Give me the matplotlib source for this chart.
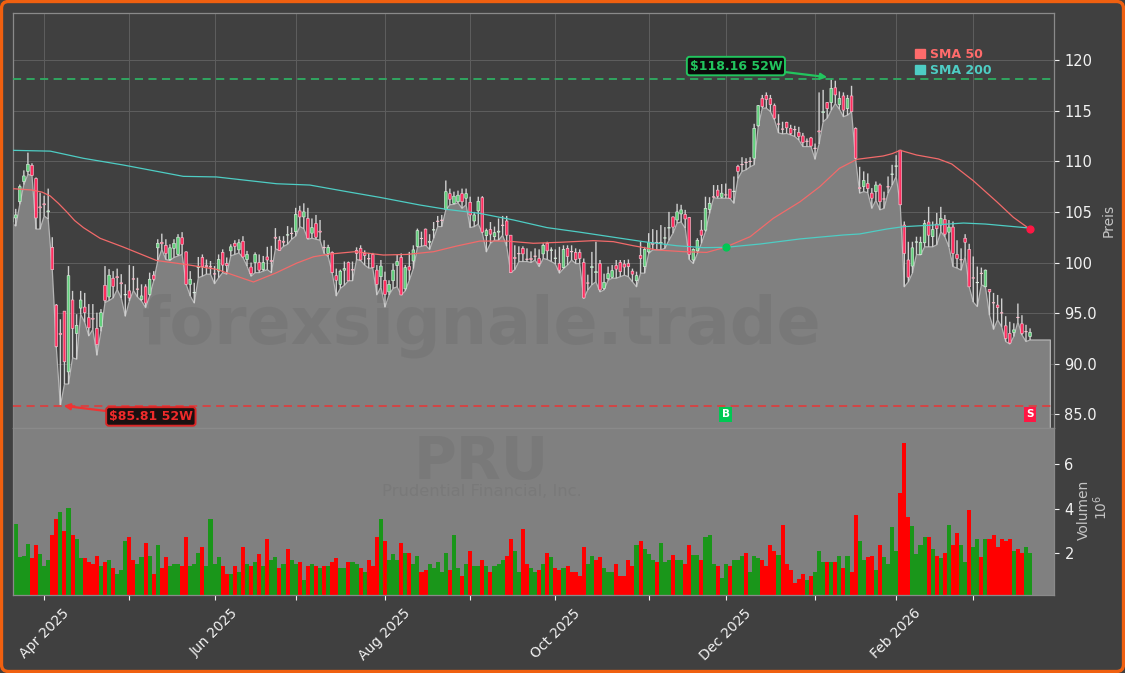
import matplotlib
matplotlib.use("Agg")
import matplotlib.pyplot as plt
import numpy as np
from matplotlib.patches import FancyBboxPatch, Patch
from matplotlib.ticker import FuncFormatter
from matplotlib.transforms import IdentityTransform

opens = [
104.0,104.4,106.0,108.0,109.0,109.6,108.3,105.5,105.8,105.0,
101.5,95.8,93.0,95.2,89.2,96.3,93.0,95.5,95.6,94.55,
94.5,93.5,93.65,97.75,96.6,98.45,98.6,98.0,96.8,97.2,
98.4,97.4,96.35,97.6,96.85,98.75,101.45,102.0,101.7,100.3,
101.4,100.8,102.45,101.05,97.85,97.0,99.5,100.5,99.7,99.6,
98.9,99.15,101.0,99.9,101.15,101.9,101.25,102.1,100.3,99.55,
100.0,100.0,99.3,100.55,100.2,102.5,102.2,102.1,102.7,102.9,
103.05,105.1,104.5,104.35,102.9,103.85,103.1,101.5,100.9,101.0,
98.7,97.85,99.25,100.0,99.3,101.2,101.4,100.9,100.4,100.8,
99.25,98.6,98.25,97.1,98.2,99.7,100.5,97.4,99.6,100.15,
101.6,102.4,103.3,102.0,103.2,104.1,104.2,105.25,106.8,105.85,
106.0,106.8,106.35,105.95,104.1,105.1,106.4,102.65,103.25,102.55,
103.0,103.7,104.1,102.7,100.5,100.9,101.4,100.35,100.4,100.65,
100.4,100.85,101.9,101.2,100.4,99.9,99.5,101.4,101.1,101.0,
101.0,100.0,98.0,99.5,99.0,99.9,97.45,98.4,98.55,99.7,
100.0,99.85,99.9,99.15,98.2,100.7,99.6,101.05,101.9,102.0,
101.9,102.4,103.4,104.5,104.2,104.8,104.75,104.45,100.25,101.15,
103.2,103.2,105.25,106.5,107.15,106.45,106.7,107.25,107.0,109.5,
109.7,109.9,110.0,110.3,113.5,116.2,116.5,116.2,115.5,113.7,
113.2,113.85,113.25,113.15,112.85,112.5,112.0,112.3,111.3,113.0,
114.8,115.8,115.8,117.25,115.6,116.45,115.2,116.45,113.25,107.4,
107.5,107.8,106.85,107.0,107.65,106.3,107.5,108.7,109.5,111.1,
103.7,100.25,99.65,102.0,100.8,101.95,104.0,102.55,103.8,103.7,
104.25,103.0,103.5,100.8,100.3,102.4,101.3,98.5,98.0,98.95,
97.6,97.35,96.05,95.8,95.05,93.75,93.0,93.1,94.6,93.95,
93.2,92.7]

closes = [
104.5,104.7,107.5,108.55,109.7,108.6,104.4,105.4,105.7,105.1,
99.3,91.7,92.9,90.2,98.7,93.5,93.8,96.3,95.05,93.55,
94.4,91.9,95.05,96.25,98.75,97.65,98.5,97.9,96.8,96.5,
98.35,97.35,96.7,96.0,98.35,98.35,101.9,101.85,100.9,101.45,
101.9,102.5,101.8,97.85,98.35,97.0,99.6,99.6,99.6,99.55,
98.85,100.3,99.75,99.7,101.55,101.6,101.95,100.55,100.8,98.9,
100.8,99.25,100.0,100.25,100.1,102.4,101.2,102.0,102.75,102.85,
104.75,104.5,105.0,102.4,103.45,102.5,103.0,101.45,101.5,99.0,
98.25,99.15,99.4,98.2,99.25,100.9,100.25,100.7,100.35,99.5,
97.85,99.65,96.85,97.85,99.25,100.1,96.8,99.5,99.25,101.25,
103.15,102.35,101.7,102.1,103.25,104.05,104.15,107.0,106.25,106.55,
106.65,106.0,106.8,104.7,104.7,106.05,103.0,103.15,102.8,102.95,
103.1,103.65,102.7,99.0,100.4,100.85,100.85,100.3,100.3,100.6,
99.9,101.7,101.15,101.25,100.4,99.25,101.3,100.6,101.05,100.3,
100.4,96.5,97.95,99.6,99.1,97.3,98.05,98.9,99.2,99.35,
99.1,99.55,99.6,98.85,98.7,100.4,101.3,101.95,101.8,101.95,
102.0,102.45,103.45,103.5,105.0,105.2,104.3,100.8,101.3,102.2,
102.7,105.35,105.85,106.45,106.55,106.85,106.65,106.35,107.05,109.0,
109.65,109.85,109.95,113.25,115.5,115.4,116.1,115.6,114.25,113.65,
113.15,113.3,112.75,113.1,112.45,111.85,111.95,111.5,111.25,112.9,
114.9,115.2,117.2,116.55,116.2,115.05,116.2,114.9,110.3,107.3,
108.1,107.3,106.35,107.65,106.0,106.25,107.45,108.75,109.55,105.7,
100.9,98.55,101.45,102.05,102.0,103.85,102.7,103.25,103.35,104.35,
102.8,103.5,100.9,100.4,100.25,102.0,97.6,98.45,98.0,98.9,
99.25,97.1,96.0,95.55,95.0,92.5,92.05,93.35,94.55,93.0,
93.15,93.1]

highs = [
105.25,105.3,107.7,109.1,110.85,109.8,108.4,106.9,106.6,107.3,
102.5,95.9,94.4,95.2,99.65,97.2,94.9,97.2,97.0,95.9,
95.9,95.05,95.4,99.65,99.35,99.15,99.4,98.85,97.85,99.75,
99.65,98.5,97.85,97.85,99.0,99.15,102.3,102.85,102.3,101.8,
102.3,102.8,103.0,101.1,99.15,98.0,100.55,100.8,100.3,100.15,
99.65,100.8,101.3,100.5,101.8,102.2,102.3,102.6,101.15,100.0,
101.0,100.8,100.65,101.55,101.65,103.4,102.6,102.6,103.6,103.45,
105.4,105.6,105.85,105.4,104.35,104.7,104.2,102.2,101.75,101.1,
99.4,99.3,100.1,100.1,100.1,101.5,101.7,101.2,100.95,100.95,
99.75,100.25,99.1,98.25,99.9,100.75,100.9,99.75,101.05,101.7,
103.35,103.05,103.35,102.8,104.0,104.6,104.7,108.1,107.3,107.0,
107.1,107.3,107.3,106.5,105.0,106.5,106.55,103.35,104.0,103.55,
104.35,104.6,104.6,102.7,101.7,101.6,101.6,101.4,101.1,101.4,
101.3,101.9,102.05,101.5,101.3,101.55,101.7,101.7,101.7,101.4,
101.3,100.4,98.8,101.05,102.05,100.25,98.9,99.6,99.75,100.25,
100.25,100.25,100.3,99.4,99.1,102.05,101.55,102.9,103.3,103.2,
103.7,103.5,105.0,104.55,105.8,105.7,105.2,104.5,101.4,102.4,
104.2,106.5,106.45,107.65,107.65,107.75,107.8,107.25,108.5,109.65,
110.4,110.3,110.4,113.7,115.55,116.55,116.8,116.55,115.7,114.65,
113.9,113.9,113.6,113.5,113.4,112.8,112.25,112.4,111.75,116.8,
117.05,115.85,118.16,117.95,116.9,116.8,116.55,117.45,113.35,109.45,
109.0,108.8,107.35,108.0,107.8,107.0,108.5,109.65,110.6,111.1,
104.05,102.05,102.05,102.55,102.55,104.2,105.5,104.05,104.9,105.5,
104.7,104.2,104.05,102.2,101.4,102.8,101.85,100.6,99.6,99.5,
99.3,97.35,97.0,96.8,96.45,94.7,94.15,94.0,95.95,94.8,
93.85,93.5]

lows = [
103.9,103.6,105.75,107.7,108.7,108.6,103.3,103.3,104.6,104.3,
99.3,91.6,85.81,88.0,88.0,90.6,90.45,94.9,94.1,92.75,
93.4,90.85,93.2,96.05,96.25,96.5,97.35,96.5,94.7,96.2,
97.25,96.6,96.2,95.55,96.7,98.2,100.15,101.3,100.3,100.2,
100.5,100.65,100.8,97.85,96.7,96.0,98.5,98.65,98.85,98.85,
97.9,98.5,99.0,98.85,100.65,100.8,100.95,100.5,99.65,98.65,
99.0,99.0,99.15,99.3,99.0,101.35,101.2,101.6,101.8,102.3,
102.6,103.55,103.35,102.3,102.4,102.3,102.2,100.9,100.6,98.95,
96.7,97.45,97.75,98.2,98.2,100.3,100.2,99.75,99.45,99.45,
96.8,97.6,95.6,96.8,97.45,97.6,96.8,97.2,98.25,99.4,
101.5,101.6,101.7,101.3,102.4,103.55,103.55,105.2,105.7,105.75,
105.9,105.35,105.7,103.45,103.55,103.8,102.9,101.05,101.9,102.2,
102.2,102.7,101.6,99.0,99.3,100.1,100.1,100.1,100.0,100.25,
99.6,100.4,100.3,100.1,99.85,98.95,99.4,99.75,100.25,99.9,
99.9,96.45,97.3,97.8,98.1,97.1,97.3,98.25,98.45,98.45,
98.6,98.75,98.6,98.1,97.6,98.95,98.95,100.9,101.25,101.25,
101.25,101.4,102.2,102.9,103.9,104.0,103.4,100.3,99.9,100.9,
101.9,103.05,104.85,106.4,106.35,106.35,106.35,106.35,105.85,108.3,
109.0,109.15,109.45,109.65,113.4,115.25,115.25,114.9,114.1,112.8,
112.7,112.75,112.6,112.45,112.1,111.45,111.45,111.45,110.2,111.7,
113.9,114.25,115.05,115.7,115.15,114.4,114.55,114.9,110.2,106.85,
107.0,106.9,105.35,106.15,105.2,105.35,106.85,107.65,108.5,105.7,
97.6,98.1,98.95,100.8,100.75,101.55,101.55,101.55,101.75,103.05,
102.55,101.55,99.6,99.45,99.25,100.6,97.6,96.1,95.65,97.8,
97.6,94.8,93.4,94.35,93.65,92.2,91.95,92.7,94.15,92.85,
92.2,92.35]
lows_tail = [92.35, 92.35, 92.35, 92.35, 92.35]

volumes = [
1.24,3.33,1.82,1.87,2.43,1.78,2.36,1.96,1.42,1.73,
2.85,3.57,3.87,3.03,4.04,2.81,2.67,1.78,1.78,1.64,
1.55,1.87,1.46,1.64,1.73,1.33,1.06,1.24,2.54,2.76,
1.69,1.51,1.82,2.49,1.87,1.06,2.40,1.33,1.82,1.42,
1.51,1.55,1.42,2.76,1.46,1.55,2.04,2.31,1.42,3.57,
1.51,1.82,1.46,1.06,1.06,1.46,1.19,2.31,1.51,1.42,
1.60,1.96,1.46,2.67,1.73,1.82,1.37,1.55,2.22,1.73,
1.51,1.60,0.79,1.46,1.51,1.42,1.33,1.46,1.46,1.64,
1.78,1.37,1.37,1.60,1.60,1.55,1.33,1.19,1.69,1.46,
2.72,3.57,2.54,1.73,1.96,1.73,2.45,2.04,2.04,1.51,
1.87,1.19,1.24,1.51,1.33,1.60,1.19,2.0,1.28,2.81,
1.33,1.01,1.51,2.09,1.46,1.46,1.69,1.46,1.15,1.42,
1.51,1.69,1.87,2.67,2.09,1.19,3.12,1.51,1.37,1.19,
1.28,1.55,2.0,1.82,1.33,1.28,1.37,1.42,1.15,1.19,
1.01,2.27,1.51,1.87,1.69,1.82,1.33,1.19,1.19,1.55,
1.01,0.97,1.69,1.46,2.36,2.54,2.18,1.96,1.73,1.64,
2.49,1.60,1.73,1.91,1.73,1.69,1.51,2.40,1.91,1.91,
1.69,2.76,2.81,1.55,1.46,0.88,1.55,1.42,1.73,1.69,
1.87,2.0,1.19,1.87,1.78,1.73,1.46,2.40,2.13,1.91,
3.30,1.51,1.28,0.66,0.84,1.10,0.79,1.01,1.19,2.13,
1.60,1.64,1.64,1.60,1.87,1.33,1.87,1.15,3.75,2.54,
1.69,1.82,1.87,1.28,2.36,1.82,1.55,3.21,2.09,4.73,
6.97,3.66,3.25,1.96,2.40,2.76,2.76,2.22,1.87,1.78,
2.04,3.30,2.36,2.90,2.36,1.60,3.96,2.27,2.63,1.82,
2.63,2.67,2.85,2.31,2.63,2.58,2.67,2.13,2.18,2.0,
2.27,2.04]

volume_dirs = (
"GGGGGRRGGG" "RRGRGRGGRR" "RRGRGRGGGR" "RGGRGRGRRG" "GGRRGGGRGG"
"GGRRGRGRGR" "GRGRGGRGRG" "GRGRGRGRGR" "RGGRGGRGRR" "RGRGGGRGRG"
"GRRGGGGGRG" "GRGRGGRGRG" "GGRRGGRRGG" "RGRGRRGRRR" "RRGGRRGGGR"
"RRRRGRGGGR" "GGGRGGRRGG" "RGGGRGGRGG" "GRGGGRRRRG" "RRRRRRGRGG"
"GRGRGRGRRG" "GRRGRGGGGR" "RRGGGGRGRG" "RGRRGGRGGR" "GRRRRRRGRR"
"GG")

sma50_idx = [0,5,7.5,9.5,11.5,13.6,15.5,17.7,21.8,27.5,35.7,43,50.5,59.6,65,70.3,74.4,78.5,84.6,91.6,97.4,104,
             109.7,115.4,122,128.6,135.2,143.4,148.3,153.2,159,165.6,171.3,175.8,182,187.7,
             194.3,199.2,204,208.3,214.8,217,219,223,228.4,231.7,237,242.8,246.9,251]
sma50 = [107.3,107.16,106.95,106.57,105.85,104.99,104.15,103.44,102.39,101.53,100.2,99.8,99.33,98.08,98.95,99.95,100.57,
         100.84,101.07,100.74,100.8,101.07,101.63,102.12,102.12,101.9,102.0,102.16,102.06,101.66,
         101.24,101.07,101.0,101.5,102.55,104.36,106.0,107.5,109.3,110.19,110.52,110.75,111.08,110.62,
         110.23,109.73,108.08,106.0,104.46,103.28]

sma200_idx = [0,9.5,17.7,27.5,42.3,50.5,65.3,73.5,82.6,90.8,100.6,107.2,115.4,123.7,131.9,140,
              147.5,155.7,163.9,170.5,176,184.5,194.3,205,209,215.7,219.8,227,234.6,240,251]
sma200 = [111.08,111.0,110.29,109.63,108.51,108.45,107.78,107.65,107.0,106.43,105.68,105.25,
          104.85,104.2,103.45,103.0,102.55,102.06,101.66,101.47,101.5,101.83,102.33,102.72,
          102.82,103.31,103.54,103.7,103.9,103.8,103.4]

month_ticks = [8,29,50,70,92,113,134,157,176,198,218,237]
month_labels = ["Apr 2025","","Jun 2025","","Aug 2025","","Oct 2025","",
                "Dec 2025","","Feb 2026",""]
price_ticks = [85,90,95,100,105,110,115,120]
volume_ticks = [2,4,6]
high_52w = 118.16
low_52w = 85.81
buy_signal = (176, 101.5)
sell_signal = (251, 103.3)
signal_label_y = 85.0

BG = "#404040"
W, H = 1125, 673
fig = plt.figure(figsize=(W/100, H/100), dpi=100, facecolor=BG)

def axpos(l, t, r, b):
    return [l/W, 1-b/H, (r-l)/W, (b-t)/H]

ax = fig.add_axes(axpos(12.5, 13, 1054, 428), facecolor=BG)
axv = fig.add_axes(axpos(12.5, 428, 1054, 594.5), facecolor="#808080", sharex=ax)

x = np.arange(len(closes))
low_all = np.array(lows + lows_tail)
x_all = np.arange(len(low_all))

ax.grid(True, color="#5e5e5e", lw=0.7, zorder=0)
ax.set_axisbelow(True)

# low area
ax.fill_between(x_all, low_all, 0, facecolor="#808080", edgecolor="#b4b4b4", lw=0.9, zorder=1)

# candles
op, cl, hi, lo = map(np.array, (opens, closes, highs, lows))
up = cl >= op
ax.vlines(x, lo, hi, color="#d0d0d0", lw=1.0, zorder=2, snap=False)
bottoms = np.minimum(op, cl)
heights = np.maximum(np.abs(cl-op), 0.05)
ax.bar(x[up], heights[up], bottom=bottoms[up], width=0.66, color="#62d07c",
       edgecolor="#dcece0", lw=0.45, zorder=3, snap=False)
ax.bar(x[~up], heights[~up], bottom=bottoms[~up], width=0.66, color="#ff2d5f",
       edgecolor="#f4c4d0", lw=0.45, zorder=3, snap=False)

# moving averages
ax.plot(sma50_idx, sma50, color="#f26a6a", lw=0.9, zorder=4)
ax.plot(sma200_idx, sma200, color="#4ecdc4", lw=0.9, zorder=4)

# 52-week lines
ax.axhline(high_52w, color="#2fae63", lw=1.3, ls=(0, (4.5, 3)), zorder=4)
ax.axhline(low_52w, color="#d94040", lw=1.3, ls=(0, (4.5, 3)), zorder=4)

# signal dots and labels
ax.scatter(*buy_signal, s=24, color="#00c853", zorder=6)
ax.scatter(*sell_signal, s=24, color="#ff1744", marker="o", zorder=6)
ax.text(buy_signal[0], signal_label_y, "B", color="white", fontsize=7.5, fontweight="bold",
        ha="center", va="center", zorder=7,
        bbox=dict(boxstyle="square,pad=0.25", fc="#00c853", ec="none"))
ax.text(sell_signal[0], signal_label_y, "S", color="white", fontsize=7.5, fontweight="bold",
        ha="center", va="center", zorder=7,
        bbox=dict(boxstyle="square,pad=0.25", fc="#ff1744", ec="none"))

# 52-week callouts
ax.annotate("$118.16 52W", xy=(201, 118.3), xytext=(178.5, 119.4), color="#22c55e",
            fontsize=9.0, fontweight="bold", ha="center", va="center", zorder=8,
            bbox=dict(boxstyle="round,pad=0.22", fc="#0a0a0a", ec="#22c55e", lw=1.4),
            arrowprops=dict(arrowstyle="-|>", color="#22c55e", lw=1.6, shrinkA=0, shrinkB=0))
ax.annotate("$85.81 52W", xy=(12.8, 85.85), xytext=(34.3, 84.8), color="#ef2b2b",
            fontsize=9.0, fontweight="bold", ha="center", va="center", zorder=8,
            bbox=dict(boxstyle="round,pad=0.22", fc="#1a1010", ec="#d92525", lw=1.4),
            arrowprops=dict(arrowstyle="-|>", color="#ef3333", lw=1.6, shrinkA=0, shrinkB=0))

# watermarks
ax.text(0.4503, 0.246, "forexsignale.trade", transform=ax.transAxes, fontsize=47,
        fontweight="bold", color="black", alpha=0.055, ha="center", va="center", zorder=2.5)
axv.text(0.4503, 0.795, "PRU", transform=axv.transAxes, fontsize=42, fontweight="bold",
         color="black", alpha=0.05, ha="center", va="center", zorder=1)
axv.text(0.4503, 0.62, "Prudential Financial, Inc.", transform=axv.transAxes, fontsize=11.8,
         color="black", alpha=0.05, ha="center", va="center", zorder=1)

# legend
handles = [Patch(color="#ff6b6b", label="SMA 50"), Patch(color="#4ecdc4", label="SMA 200")]
leg = ax.legend(handles=handles, loc="upper left",
                bbox_to_anchor=((914.5-12.5)/1041.5, 1-(48-13)/415), frameon=False,
                prop=dict(weight="bold", size=9.0), labelcolor=["#ff6b6b", "#4ecdc4"],
                handlelength=0.8, handleheight=0.8, handletextpad=0.45, labelspacing=0.22,
                borderpad=0, borderaxespad=0)
leg.set_zorder(9)

# volume
vol_colors = ["#1a961a" if d == "G" else "#ff0000" for d in volume_dirs]
axv.bar(x, volumes, width=1.0, color=vol_colors, lw=0, zorder=2)

# axes limits, ticks
ax.set_xlim(0.2, 256.9)
ax.set_ylim(83.66, 124.64)
axv.set_ylim(0.157, 7.64)

ax.yaxis.tick_right()
ax.set_yticks(price_ticks)
ax.yaxis.set_major_formatter(FuncFormatter(lambda v, _: f"{v:.0f}" if v >= 100 else f"{v:.1f}"))
ax.tick_params(axis="y", colors="#f2f2f2", labelsize=10.5, length=3.5, width=0.8, pad=4)
ax.set_ylabel("Preis", color="#c4c4c4", fontsize=10, labelpad=3)
ax.yaxis.set_label_position("right")

axv.yaxis.tick_right()
axv.set_yticks(volume_ticks)
axv.tick_params(axis="y", colors="#f2f2f2", labelsize=10.5, length=3.5, width=0.8, pad=4)
axv.set_xticks(month_ticks)
axv.set_xticklabels(month_labels, rotation=45, ha="center")
axv.tick_params(axis="x", colors="#f2f2f2", labelsize=10, length=3.5, width=0.8, pad=5)
ax.tick_params(axis="x", bottom=False, labelbottom=False)
fig.text(1084/W, 1-510/H, "Volumen", rotation=90, color="#c4c4c4", fontsize=10,
         ha="center", va="center")
fig.text(1101/W, 1-507/H, r"$10^{6}$", rotation=90, color="#c4c4c4", fontsize=10,
         ha="center", va="center")

for a in (ax, axv):
    for s in a.spines.values():
        s.set_color("#8a8a8a")
        s.set_linewidth(0.9)

fig.add_artist(FancyBboxPatch((1.5, 1.5), W-3, H-3,
                              boxstyle="round,pad=0,rounding_size=7",
                              transform=IdentityTransform(), fc="none",
                              ec="#f06010", lw=2.4))

fig.savefig("out.png", dpi=100, facecolor=BG)
